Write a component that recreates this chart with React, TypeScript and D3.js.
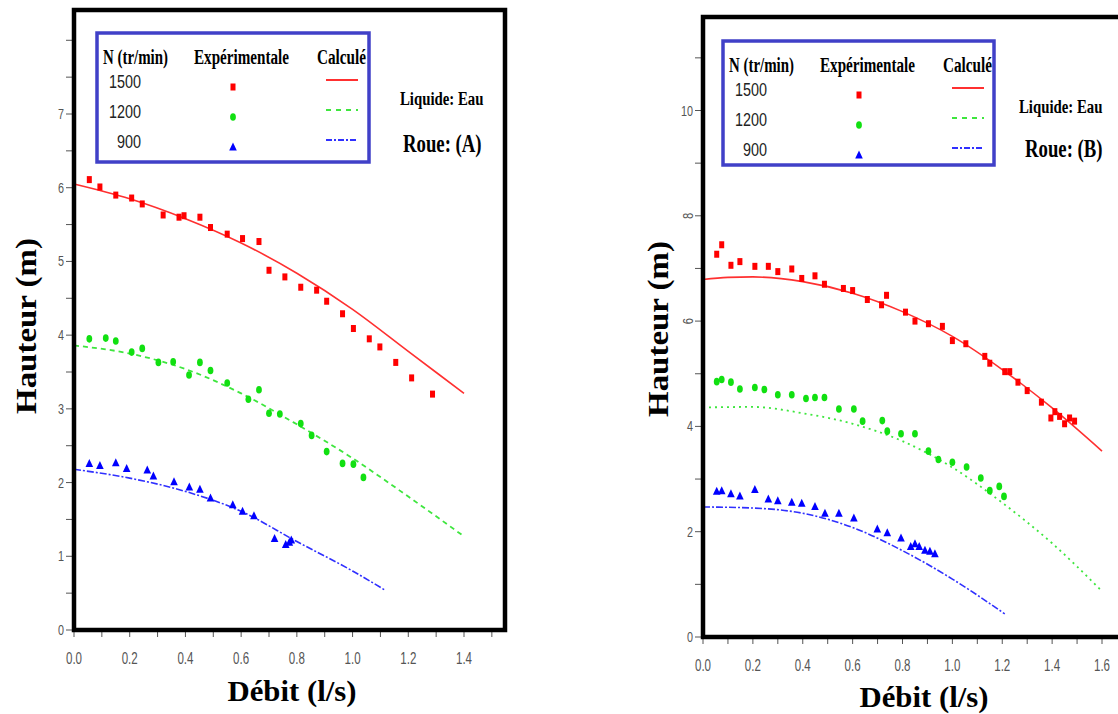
import React from 'react';
import * as d3 from 'd3';

type Pt = [number, number];

// ---------- Roue (A) data ----------
const aExp1500: Pt[] = [[0.055,6.11],[0.093,6.01],[0.15,5.90],[0.207,5.86],[0.245,5.78],[0.32,5.63],[0.377,5.60],[0.395,5.62],[0.452,5.60],[0.49,5.46],[0.55,5.37],[0.605,5.31],[0.664,5.27],[0.70,4.88],[0.757,4.79],[0.814,4.65],[0.871,4.61],[0.907,4.46],[0.964,4.29],[1.003,4.09],[1.06,3.95],[1.098,3.84],[1.155,3.63],[1.212,3.42],[1.287,3.20]];
const aExp1200: Pt[] = [[0.055,3.95],[0.114,3.96],[0.15,3.92],[0.207,3.77],[0.245,3.82],[0.303,3.63],[0.356,3.64],[0.413,3.46],[0.452,3.63],[0.49,3.52],[0.55,3.35],[0.626,3.13],[0.664,3.26],[0.70,2.94],[0.739,2.93],[0.814,2.80],[0.853,2.64],[0.907,2.42],[0.964,2.26],[1.003,2.25],[1.039,2.07]];
const aExp900: Pt[] = [[0.055,2.26],[0.093,2.23],[0.15,2.27],[0.189,2.19],[0.263,2.17],[0.285,2.09],[0.359,2.01],[0.414,1.94],[0.452,1.91],[0.49,1.79],[0.57,1.70],[0.605,1.61],[0.646,1.55],[0.72,1.24],[0.76,1.16],[0.773,1.19],[0.78,1.22]];
const aCalc1500: Pt[] = [[0,6.05],[0.2,5.85],[0.4,5.58],[0.6,5.25],[0.8,4.84],[1.0,4.35],[1.2,3.78],[1.4,3.21]];
const aCalc1200: Pt[] = [[0,3.86],[0.2,3.75],[0.4,3.54],[0.6,3.21],[0.8,2.79],[1.0,2.33],[1.2,1.81],[1.4,1.27]];
const aCalc900: Pt[] = [[0,2.18],[0.2,2.06],[0.4,1.88],[0.6,1.61],[0.8,1.20],[1.0,0.80],[1.117,0.54]];

// ---------- Roue (B) data ----------
const bExp1500: Pt[] = [[0.055,7.27],[0.075,7.45],[0.112,7.06],[0.148,7.13],[0.208,7.04],[0.262,7.04],[0.30,6.94],[0.356,6.99],[0.396,6.81],[0.449,6.86],[0.487,6.70],[0.563,6.62],[0.60,6.58],[0.659,6.41],[0.716,6.31],[0.736,6.49],[0.812,6.17],[0.85,6.00],[0.904,5.95],[0.96,5.90],[1.0,5.63],[1.054,5.57],[1.13,5.33],[1.15,5.20],[1.21,5.04],[1.23,5.04],[1.263,4.84],[1.30,4.68],[1.357,4.46],[1.395,4.16],[1.411,4.28],[1.43,4.19],[1.45,4.05],[1.47,4.16],[1.49,4.10]];
const bExp1200: Pt[] = [[0.055,4.85],[0.075,4.89],[0.112,4.84],[0.148,4.71],[0.208,4.74],[0.246,4.70],[0.30,4.60],[0.356,4.60],[0.413,4.53],[0.449,4.55],[0.487,4.55],[0.545,4.33],[0.605,4.33],[0.64,4.10],[0.719,4.11],[0.739,3.91],[0.794,3.86],[0.85,3.86],[0.904,3.53],[0.944,3.37],[1.0,3.32],[1.057,3.23],[1.114,3.02],[1.15,2.78],[1.188,2.86],[1.207,2.67]];
const bExp900: Pt[] = [[0.055,2.77],[0.075,2.78],[0.112,2.72],[0.148,2.68],[0.208,2.80],[0.262,2.62],[0.30,2.59],[0.356,2.56],[0.396,2.54],[0.449,2.48],[0.489,2.35],[0.545,2.35],[0.605,2.26],[0.699,2.05],[0.739,1.98],[0.794,1.88],[0.833,1.72],[0.85,1.77],[0.867,1.72],[0.89,1.65],[0.91,1.63],[0.93,1.58]];
const bCalc1500: Pt[] = [[0,6.79],[0.1,6.83],[0.2,6.84],[0.4,6.75],[0.6,6.53],[0.8,6.18],[1.0,5.71],[1.2,5.08],[1.4,4.35],[1.6,3.53]];
const bCalc1200: Pt[] = [[0,4.36],[0.2,4.37],[0.4,4.25],[0.6,4.05],[0.8,3.72],[1.0,3.22],[1.2,2.55],[1.4,1.78],[1.6,0.87]];
const bCalc900: Pt[] = [[0,2.47],[0.2,2.45],[0.4,2.35],[0.6,2.08],[0.8,1.64],[1.0,1.10],[1.21,0.44]];

// ---------- tick labels / legend ----------
const aXTicks = [0, 0.2, 0.4, 0.6, 0.8, 1.0, 1.2, 1.4];
const aYTicks = [0, 1, 2, 3, 4, 5, 6, 7];
const bXTicks = [0, 0.2, 0.4, 0.6, 0.8, 1.0, 1.2, 1.4, 1.6];
const bYTicks = [0, 2, 4, 6, 8, 10];
const speeds = ['1500', '1200', '900'];

const RED = '#ff0000';
const GREEN = '#11e011';
const BLUE = '#0000ff';
const SERIF = '"Liberation Serif", "Times New Roman", serif';
const SANS = '"Liberation Sans", Arial, sans-serif';

const line = (xs: any, ys: any) =>
  d3.line<Pt>().x(d => xs(d[0])).y(d => ys(d[1])).curve(d3.curveMonotoneX);

function Marker({ kind, x, y }: { kind: string; x: number; y: number }) {
  if (kind === 'sq') return <rect x={x - 2.5} y={y - 3.5} width={5} height={7} fill={RED} />;
  if (kind === 'ci') return <ellipse cx={x} cy={y} rx={2.9} ry={3.8} fill={GREEN} />;
  return <path d={`M${x},${y - 4.5}L${x + 3.8},${y + 3.5}L${x - 3.8},${y + 3.5}Z`} fill={BLUE} />;
}

function Panel(p: any) {
  const xs = d3.scaleLinear().domain([0, p.xMax]).range([p.x0, p.x1]);
  const ys = d3.scaleLinear().domain([0, p.yMax]).range([p.y0, p.y1]);
  const frameR = p.frameR, frameT = p.frameT;
  const xMinor = d3.range(0, xs.invert(Math.min(frameR, 1118)) + 1e-9, 0.1);
  const yMinor = d3.range(0, ys.invert(frameT) + 1e-9, p.yMinorStep);
  const series = [
    { exp: p.exp[0], calc: p.calc[0], kind: 'sq', color: '#ff3030', dash: null, w: 1.6 },
    { exp: p.exp[1], calc: p.calc[1], kind: 'ci', color: '#3ee63e', dash: p.greenDash, w: 1.8 },
    { exp: p.exp[2], calc: p.calc[2], kind: 'tr', color: '#3030ff', dash: '7,2,2,2', w: 1.6 },
  ];
  const L = p.legend;
  return (
    <g>
      {/* minor ticks */}
      {xMinor.map((v, i) => (
        <line key={'xm' + i} x1={xs(v)} x2={xs(v)} y1={p.y0 + 2} y2={p.y0 + 7} stroke="#555" strokeWidth={1} />
      ))}
      {yMinor.map((v, i) => (
        <line key={'ym' + i} x1={p.x0 - 8} x2={p.x0 - 2} y1={ys(v)} y2={ys(v)} stroke="#555" strokeWidth={1} />
      ))}
      {p.xTicks.map((v: number) => (
        <text key={'xt' + v} transform={`translate(${xs(v)},${p.xLabelY}) scale(0.68,1)`} textAnchor="middle"
          fontFamily={SANS} fontSize={17} fill="#555">{v.toFixed(1)}</text>
      ))}
      {p.yTicks.map((v: number) => (
        p.rotated.includes(v) ? (
          <text key={'yt' + v} transform={`translate(${p.x0 - 10},${ys(v)}) rotate(-90) scale(0.75,1)`} textAnchor="middle"
            fontFamily={SANS} fontSize={15} fill="#555">{v}</text>
        ) : (
          <text key={'yt' + v} transform={`translate(${p.x0 - 10},${ys(v) + 5}) scale(0.72,1)`} textAnchor="end"
            fontFamily={SANS} fontSize={15} fill="#555">{v}</text>
        )
      ))}
      {/* curves */}
      {series.map((s, i) => (
        <path key={'c' + i} d={line(xs, ys)(s.calc) as string} fill="none" stroke={s.color}
          strokeWidth={s.w} strokeDasharray={s.dash || undefined} />
      ))}
      {series.map((s, i) => s.exp.map((d: Pt, j: number) => (
        <Marker key={'m' + i + '-' + j} kind={s.kind} x={xs(d[0])} y={ys(d[1])} />
      )))}
      {/* frame */}
      <path d={`M${p.x0},${p.y0}L${p.x0},${frameT}L${frameR},${frameT}L${frameR},${p.y0}Z`} fill="none" stroke="#000" strokeWidth={4.5} />
      {/* axis titles */}
      <text transform={`translate(${p.yTitleX},${p.yTitleY}) rotate(-90)`} textAnchor="middle" fontFamily={SERIF}
        fontWeight="bold" fontSize={30} textLength={176} lengthAdjust="spacingAndGlyphs">Hauteur (m)</text>
      <text x={p.xTitleX} y={p.xTitleY} textAnchor="middle" fontFamily={SERIF} fontWeight="bold" fontSize={29}
        textLength={129} lengthAdjust="spacingAndGlyphs">Débit (l/s)</text>
      {/* legend */}
      <rect x={L.bx} y={L.by} width={L.bw} height={L.bh} fill="none" stroke="#4040c8" strokeWidth={3.5} />
      <text x={L.bx + 6} y={L.by + 31} fontFamily={SERIF} fontWeight="bold" fontSize={20} textLength={65} lengthAdjust="spacingAndGlyphs">N (tr/min)</text>
      <text x={L.bx + 97} y={L.by + 31} fontFamily={SERIF} fontWeight="bold" fontSize={20} textLength={95} lengthAdjust="spacingAndGlyphs">Expérimentale</text>
      <text x={L.bx + 220} y={L.by + 31} fontFamily={SERIF} fontWeight="bold" fontSize={20} textLength={49} lengthAdjust="spacingAndGlyphs">Calculé</text>
      {speeds.map((s, i) => (
        <text key={'sp' + s} x={L.bx + 44} y={L.by + 55 + i * 30} textAnchor="end" fontFamily={SANS} fontSize={18}
          fill="#222" textLength={s.length * 8} lengthAdjust="spacingAndGlyphs">{s}</text>
      ))}
      {series.map((s, i) => (
        <g key={'lg' + i}>
          <Marker kind={s.kind} x={L.bx + 136} y={L.by + 54 + i * 30} />
          <line x1={L.bx + 229} x2={L.bx + 261} y1={L.by + 47 + i * 30} y2={L.by + 47 + i * 30} stroke={s.color}
            strokeWidth={2} strokeDasharray={i === 0 ? undefined : (i === 1 ? '5,5' : '6,2,2,2')} />
        </g>
      ))}
      <text transform={`translate(${p.liqX},${p.liqY}) scale(0.78,1)`} fontFamily={SERIF} fontWeight="bold" fontSize={19}>Liquide: Eau</text>
      <text transform={`translate(${p.roueX},${p.roueY}) scale(0.75,1)`} fontFamily={SERIF} fontWeight="bold" fontSize={25}>{p.roue}</text>
    </g>
  );
}

export default function App() {
  return (
    <svg width={1118} height={714} style={{ position: 'absolute', left: 0, top: 0, background: '#fff' }}>
      <rect width={1118} height={714} fill="#fff" />
      <Panel
        x0={74} x1={464} xMax={1.4} y0={630} y1={114} yMax={7} frameR={505} frameT={10}
        yMinorStep={0.5} xTicks={aXTicks} yTicks={aYTicks} rotated={[]}
        exp={[aExp1500, aExp1200, aExp900]} calc={[aCalc1500, aCalc1200, aCalc900]}
        greenDash="5,4" xLabelY={664} yTitleX={36} yTitleY={326} xTitleX={292} xTitleY={701}
        legend={{ bx: 97, by: 33, bw: 272, bh: 129 }}
        liqX={400} liqY={105} roueX={403} roueY={152} roue="Roue: (A)"
      />
      <Panel
        x0={703} x1={1102} xMax={1.6} y0={637} y1={110.5} yMax={10} frameR={1140} frameT={17}
        yMinorStep={1} xTicks={bXTicks} yTicks={bYTicks} rotated={[6, 8]}
        exp={[bExp1500, bExp1200, bExp900]} calc={[bCalc1500, bCalc1200, bCalc900]}
        greenDash="2,4" xLabelY={671} yTitleX={668} yTitleY={329} xTitleX={924} xTitleY={707}
        legend={{ bx: 723, by: 41, bw: 271, bh: 124 }}
        liqX={1019} liqY={113} roueX={1025} roueY={157} roue="Roue: (B)"
      />
    </svg>
  );
}
